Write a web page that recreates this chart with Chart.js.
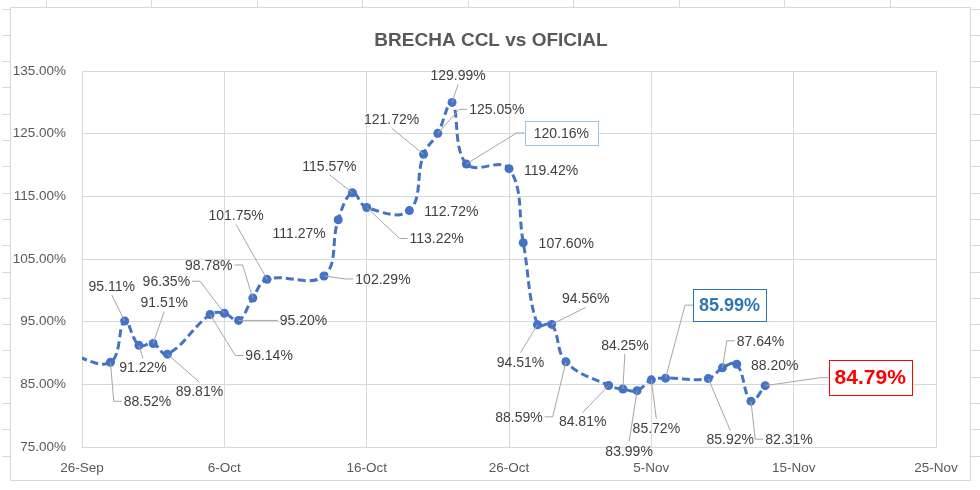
<!DOCTYPE html>
<html>
<head>
<meta charset="utf-8">
<title>Brecha CCL vs Oficial</title>
<script src="https://cdn.jsdelivr.net/npm/chart.js@4/dist/chart.umd.min.js"></script>
<style>
  body { margin: 0; background: #ffffff; }
  canvas { display: block; }
</style>
</head>
<body>
<canvas id="brechaChart" width="980" height="490"></canvas>
<script>
// datos de la brecha (el primero queda fuera del eje, solo se ve la linea)
const fechas = [
    '2020-09-25', '2020-09-28', '2020-09-29', '2020-09-30', '2020-10-01', '2020-10-02',
    '2020-10-05', '2020-10-06', '2020-10-07', '2020-10-08', '2020-10-09',
    '2020-10-13', '2020-10-14', '2020-10-15', '2020-10-16',
    '2020-10-19', '2020-10-20', '2020-10-21', '2020-10-22', '2020-10-23',
    '2020-10-26', '2020-10-27', '2020-10-28', '2020-10-29', '2020-10-30',
    '2020-11-02', '2020-11-03', '2020-11-04', '2020-11-05', '2020-11-06',
    '2020-11-09', '2020-11-10', '2020-11-11', '2020-11-12', '2020-11-13'
];
const brecha = [
    89.90, 88.52, 95.11, 91.22, 91.51, 89.81,
    96.14, 96.35, 95.20, 98.78, 101.75,
    102.29, 111.27, 115.57, 113.22,
    112.72, 121.72, 125.05, 129.99, 120.16,
    119.42, 107.60, 94.51, 94.56, 88.59,
    84.81, 84.25, 83.99, 85.72, 85.99,
    85.92, 87.64, 88.20, 82.31, 84.79
];
const ticksX = ['26-Sep', '6-Oct', '16-Oct', '26-Oct', '5-Nov', '15-Nov', '25-Nov'];
const inicioEje = '2020-09-26';

// donde va cada etiqueta respecto del punto [dx, dy, lado de la guia]
const etiquetasPos = [
    null, [37, 39, 'L'], [-13, -35, 'B'], [4, 22, 'T'], [11, -41, 'B'], [32, 37, 'T'],
    [59, 41, 'L'], [-58, -32, 'R'], [65, 0, 'L'], [-44, -33, 'R'], [-31, -64, 'B'],
    [59, 3, 'L'], [-39, 13, ''], [-23, -27, 'B'], [70, 31, 'L'],
    [42, 1, ''], [-32, -35, 'B'], [59, -24, 'L'], [6, -27, 'B'], [95, -31, 'L'],
    [42, 2, ''], [43, 0, ''], [-17, 37, 'T'], [34, -26, 'B'], [-47, 55, 'R'],
    [-26, 36, 'T'], [2, -44, 'B'], [-8, 60, 'T'], [5, 48, 'T'], [64, -73, 'L'],
    [22, 61, 'T'], [38, -27, 'L'], [38, 1, ''], [38, 38, 'L'], [105, -8, 'L']
];

const FUENTE = "'Liberation Sans', Arial, sans-serif";
const estiloNormal = { font: '14px ' + FUENTE, size: 14, color: '#404040', box: null };
const estilosEspeciales = {
    19: { font: '14px ' + FUENTE, size: 14, color: '#404040', box: '#9DC3E6', padX: 9, padY: 5 },
    29: { font: 'bold 18px ' + FUENTE, size: 18, color: '#2E75B6', box: '#2E75B6', padX: 6, padY: 7 },
    34: { font: 'bold 21px ' + FUENTE, size: 21, color: '#FF0000', box: '#FF0000', padX: 6, padY: 7 }
};

function diasDesde(f) {
    return (Date.parse(f) - Date.parse(inicioEje)) / 86400000;
}

// fondo, marco y restos de la hoja de calculo
const fondoPlugin = {
    id: 'fondo',
    beforeDraw(chart) {
        const ctx = chart.ctx;
        ctx.save();
        ctx.fillStyle = '#ffffff';
        ctx.fillRect(0, 0, chart.width, chart.height);
        ctx.strokeStyle = '#D9D9D9';
        ctx.lineWidth = 1;
        ctx.beginPath();
        for (let y = 8.5; y < 480; y += 26.3) {
            ctx.moveTo(2, Math.round(y) + 0.5); ctx.lineTo(10, Math.round(y) + 0.5);
            ctx.moveTo(970, Math.round(y) + 0.5); ctx.lineTo(980, Math.round(y) + 0.5);
        }
        for (let x = 45.5; x < 970; x += 105.5) {
            ctx.moveTo(Math.round(x) + 0.5, 0); ctx.lineTo(Math.round(x) + 0.5, 7);
        }
        ctx.stroke();
        ctx.strokeRect(10.5, 7.5, 960, 473);
        ctx.fillStyle = '#595959';
        ctx.font = 'bold 19px ' + FUENTE;
        ctx.textAlign = 'center';
        ctx.textBaseline = 'middle';
        ctx.fillText('BRECHA CCL vs OFICIAL', 491, 41);
        ctx.restore();
    }
};

// etiquetas de datos con lineas guia, como en excel
const etiquetasPlugin = {
    id: 'etiquetas',
    afterDatasetsDraw(chart) {
        const ctx = chart.ctx;
        const meta = chart.getDatasetMeta(0);
        meta.data.forEach(function (pt, i) {
            const pos = etiquetasPos[i];
            if (!pos) return;
            const est = estilosEspeciales[i] || estiloNormal;
            const txt = brecha[i].toFixed(2) + '%';
            ctx.save();
            ctx.font = est.font;
            const w = ctx.measureText(txt).width;
            const lx = pt.x + pos[0];
            const ly = pt.y + pos[1];
            const hw = w / 2 + (est.box ? est.padX : 2);
            const hh = est.size / 2 + (est.box ? est.padY : 2);

            if (pos[2]) {
                ctx.strokeStyle = '#A6A6A6';
                ctx.lineWidth = 1;
                ctx.beginPath();
                if (pos[2] === 'L') {
                    ctx.moveTo(lx - hw, ly);
                    ctx.lineTo(lx - hw - 8, ly);
                } else if (pos[2] === 'R') {
                    ctx.moveTo(lx + hw, ly);
                    ctx.lineTo(lx + hw + 8, ly);
                } else if (pos[2] === 'T') {
                    ctx.moveTo(lx, ly - hh);
                } else {
                    ctx.moveTo(lx, ly + hh);
                }
                ctx.lineTo(pt.x, pt.y);
                ctx.stroke();
            }

            if (est.box) {
                ctx.fillStyle = '#ffffff';
                ctx.fillRect(lx - hw, ly - hh, hw * 2, hh * 2);
                ctx.strokeStyle = est.box;
                ctx.lineWidth = 1;
                ctx.strokeRect(Math.round(lx - hw) + 0.5, Math.round(ly - hh) + 0.5, Math.round(hw * 2), Math.round(hh * 2));
            }
            ctx.fillStyle = est.color;
            ctx.textAlign = 'center';
            ctx.textBaseline = 'middle';
            ctx.fillText(txt, lx, ly + 1);
            ctx.restore();
        });
    }
};

function loadBrecha() {
    const puntos = fechas.map(function (f, i) {
        return { x: diasDesde(f), y: brecha[i] };
    });

    const data = {
        datasets: [{
            label: 'Brecha CCL vs Oficial',
            data: puntos,
            borderColor: '#4472C4',
            backgroundColor: '#4472C4',
            borderWidth: 3,
            borderDash: [8, 4],
            tension: 0.4,
            pointRadius: function (c) { return c.dataIndex === 0 ? 0 : 4.5; },
            pointBorderWidth: 0,
            pointBackgroundColor: '#4472C4'
        }]
    };

    const config = {
        type: 'line',
        data: data,
        options: {
            responsive: false,
            animation: false,
            layout: { padding: { left: 10, right: 44, top: 71, bottom: 10 } },
            plugins: {
                legend: { display: false },
                tooltip: { enabled: false }
            },
            scales: {
                x: {
                    type: 'linear',
                    min: 0,
                    max: 60,
                    afterFit: function (s) { s.height = 33; },
                    grid: { color: '#D9D9D9', drawTicks: false },
                    border: { color: '#D9D9D9' },
                    ticks: {
                        stepSize: 10,
                        padding: 13,
                        color: '#595959',
                        font: { family: FUENTE, size: 13.5 },
                        maxRotation: 0,
                        callback: function (v) { return ticksX[v / 10]; }
                    }
                },
                y: {
                    min: 75,
                    max: 135,
                    afterFit: function (s) { s.width = 72; },
                    grid: { color: '#D9D9D9', drawTicks: false },
                    border: { color: '#D9D9D9' },
                    ticks: {
                        stepSize: 10,
                        padding: 16,
                        color: '#595959',
                        font: { family: FUENTE, size: 13.5 },
                        callback: function (v) { return v.toFixed(2) + '%'; }
                    }
                }
            }
        },
        plugins: [fondoPlugin, etiquetasPlugin]
    };

    const brechaChart = new Chart(document.getElementById('brechaChart'), config);
}

loadBrecha();
</script>
</body>
</html>
